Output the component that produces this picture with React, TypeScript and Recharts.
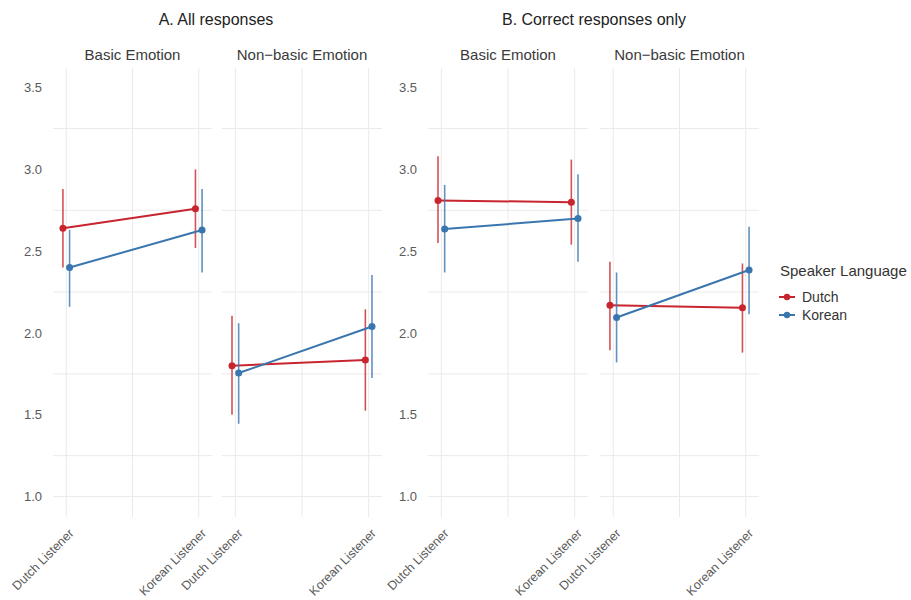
import React from 'react';
import { LineChart, Line, XAxis, YAxis, CartesianGrid, ErrorBar, Legend } from 'recharts';

// ---------- data ----------
const listeners = ['Dutch Listener', 'Korean Listener'];
const speakers = ['Dutch', 'Korean'];
const groupTitles = ['A. All responses', 'B. Correct responses only'];
const facetTitles = ['Basic Emotion', 'Non\u2212basic Emotion'];
const yTicks = [1.0, 1.5, 2.0, 2.5, 3.0, 3.5];
const yMinorTicks = [1.25, 1.75, 2.25, 2.75, 3.25];

// A. All responses — Basic Emotion
const allBasicDutchMean = [2.64, 2.76];
const allBasicDutchLow = [2.4, 2.52];
const allBasicDutchHigh = [2.88, 3.0];
const allBasicKoreanMean = [2.4, 2.63];
const allBasicKoreanLow = [2.16, 2.37];
const allBasicKoreanHigh = [2.63, 2.88];

// A. All responses — Non-basic Emotion
const allNonDutchMean = [1.8, 1.835];
const allNonDutchLow = [1.5, 1.525];
const allNonDutchHigh = [2.105, 2.145];
const allNonKoreanMean = [1.755, 2.04];
const allNonKoreanLow = [1.445, 1.725];
const allNonKoreanHigh = [2.06, 2.355];

// B. Correct responses only — Basic Emotion
const corBasicDutchMean = [2.81, 2.8];
const corBasicDutchLow = [2.55, 2.54];
const corBasicDutchHigh = [3.08, 3.06];
const corBasicKoreanMean = [2.635, 2.7];
const corBasicKoreanLow = [2.37, 2.435];
const corBasicKoreanHigh = [2.905, 2.97];

// B. Correct responses only — Non-basic Emotion
const corNonDutchMean = [2.17, 2.155];
const corNonDutchLow = [1.895, 1.88];
const corNonDutchHigh = [2.435, 2.425];
const corNonKoreanMean = [2.095, 2.385];
const corNonKoreanLow = [1.82, 2.115];
const corNonKoreanHigh = [2.37, 2.65];

// ---------- style ----------
const FONT = '"Liberation Sans", Arial, Helvetica, sans-serif';
const RED = '#C8252F';
const BLUE = '#3A76AE';
const GRID = '#EAEAEA';
const DODGE = 0.025;

const build = (mean: number[], low: number[], high: number[], offset: number) =>
  mean.map((m, i) => ({
    x: i + 1 + offset,
    y: m,
    err: [m - low[i], high[i] - m],
  }));

const facets = [
  {
    left: 53, right: 212, showY: true, title: facetTitles[0],
    dutch: build(allBasicDutchMean, allBasicDutchLow, allBasicDutchHigh, -DODGE),
    korean: build(allBasicKoreanMean, allBasicKoreanLow, allBasicKoreanHigh, DODGE),
  },
  {
    left: 222, right: 382, showY: false, title: facetTitles[1],
    dutch: build(allNonDutchMean, allNonDutchLow, allNonDutchHigh, -DODGE),
    korean: build(allNonKoreanMean, allNonKoreanLow, allNonKoreanHigh, DODGE),
  },
  {
    left: 428, right: 588, showY: true, title: facetTitles[0],
    dutch: build(corBasicDutchMean, corBasicDutchLow, corBasicDutchHigh, -DODGE),
    korean: build(corBasicKoreanMean, corBasicKoreanLow, corBasicKoreanHigh, DODGE),
  },
  {
    left: 600, right: 759, showY: false, title: facetTitles[1],
    dutch: build(corNonDutchMean, corNonDutchLow, corNonDutchHigh, -DODGE),
    korean: build(corNonKoreanMean, corNonKoreanLow, corNonKoreanHigh, DODGE),
  },
];

const W = 911;
const H = 600;
const PLOT_TOP = 68;
const PLOT_BOTTOM = 517;
const X_AXIS_H = 60;
const Y_AXIS_W = 45;

const XTick = (props: any) => {
  const { x, y, payload } = props;
  const label = listeners[Math.round(payload.value) - 1];
  return (
    <text
      transform={`translate(${x + 5},${y + 6}) rotate(-45)`}
      textAnchor="end"
      dy="0.35em"
      fontSize={12.5}
      fill="#5a5a5a"
      fontFamily={FONT}
    >
      {label}
    </text>
  );
};

const renderLegend = (props: any) => {
  const payload = props.payload || [];
  return (
    <div style={{ fontFamily: FONT, color: '#333' }}>
      <div style={{ fontSize: 15, lineHeight: '18px', marginLeft: 4, marginBottom: 8, whiteSpace: 'nowrap' }}>
        Speaker Language
      </div>
      {payload.map((p: any) => (
        <div key={p.value} style={{ display: 'flex', alignItems: 'center', height: 18, fontSize: 14 }}>
          <svg width={22} height={12} style={{ display: 'block' }}>
            <line x1={3} x2={19} y1={6} y2={6} stroke={p.color} strokeWidth={2} />
            <circle cx={11} cy={6} r={3.2} fill={p.color} />
          </svg>
          <span style={{ marginLeft: 4 }}>{p.value}</span>
        </div>
      ))}
    </div>
  );
};

const Facet = ({ f, withLegend }: { f: any; withLegend: boolean }) => {
  const marginLeft = f.showY ? f.left - Y_AXIS_W : f.left;
  return (
    <div style={{ position: 'absolute', left: 0, top: 0 }}>
      <LineChart
        width={W}
        height={H}
        margin={{ top: PLOT_TOP, bottom: H - PLOT_BOTTOM - X_AXIS_H, left: marginLeft, right: W - f.right }}
      >
        <CartesianGrid
          stroke={GRID}
          strokeWidth={1}
          horizontalValues={[...yTicks, ...yMinorTicks]}
          verticalValues={[1, 1.5, 2]}
        />
        <XAxis
          dataKey="x"
          type="number"
          domain={[0.9, 2.1]}
          ticks={[1, 2]}
          axisLine={false}
          tickLine={false}
          height={X_AXIS_H}
          tick={<XTick />}
          interval={0}
          allowDataOverflow
        />
        <YAxis
          type="number"
          domain={[0.875, 3.62]}
          ticks={yTicks}
          hide={!f.showY}
          width={Y_AXIS_W}
          axisLine={false}
          tickLine={false}
          tickMargin={5}
          allowDataOverflow
          tickFormatter={(v: number) => v.toFixed(1)}
          tick={{ fontSize: 13, fill: '#5a5a5a', fontFamily: FONT }}
        />
        <Line
          data={f.dutch}
          dataKey="y"
          name={speakers[0]}
          stroke={RED}
          strokeWidth={2}
          dot={{ r: 3.5, fill: RED, stroke: RED, strokeWidth: 0 }}
          isAnimationActive={false}
        >
          <ErrorBar dataKey="err" width={0} stroke={RED} strokeWidth={1.6} strokeOpacity={0.8} direction="y" />
        </Line>
        <Line
          data={f.korean}
          dataKey="y"
          name={speakers[1]}
          stroke={BLUE}
          strokeWidth={2}
          dot={{ r: 3.5, fill: BLUE, stroke: BLUE, strokeWidth: 0 }}
          isAnimationActive={false}
        >
          <ErrorBar dataKey="err" width={0} stroke={BLUE} strokeWidth={1.6} strokeOpacity={0.8} direction="y" />
        </Line>
        {withLegend && (
          <Legend
            layout="vertical"
            align="center"
            verticalAlign="middle"
            content={renderLegend}
            wrapperStyle={{ left: 776, top: 262, width: 135, height: 70 }}
          />
        )}
      </LineChart>
    </div>
  );
};

const textStyle = (left: number, top: number, size: number, color: string): React.CSSProperties => ({
  position: 'absolute',
  left,
  top,
  transform: 'translateX(-50%)',
  fontSize: size,
  lineHeight: '18px',
  color,
  fontFamily: FONT,
  whiteSpace: 'nowrap',
});

export default function App() {
  return (
    <div
      style={{
        position: 'absolute',
        left: 0,
        top: 0,
        width: W,
        height: H,
        background: '#fff',
        fontFamily: FONT,
        overflow: 'hidden',
      }}
    >
      {facets.map((f, i) => (
        <Facet key={i} f={f} withLegend={i === facets.length - 1} />
      ))}
      <div style={textStyle(216, 11, 16, '#222')}>{groupTitles[0]}</div>
      <div style={textStyle(594, 11, 16, '#222')}>{groupTitles[1]}</div>
      {facets.map((f, i) => (
        <div key={'s' + i} style={textStyle((f.left + f.right) / 2, 46, 15, '#3a3a3a')}>
          {f.title}
        </div>
      ))}
    </div>
  );
}
